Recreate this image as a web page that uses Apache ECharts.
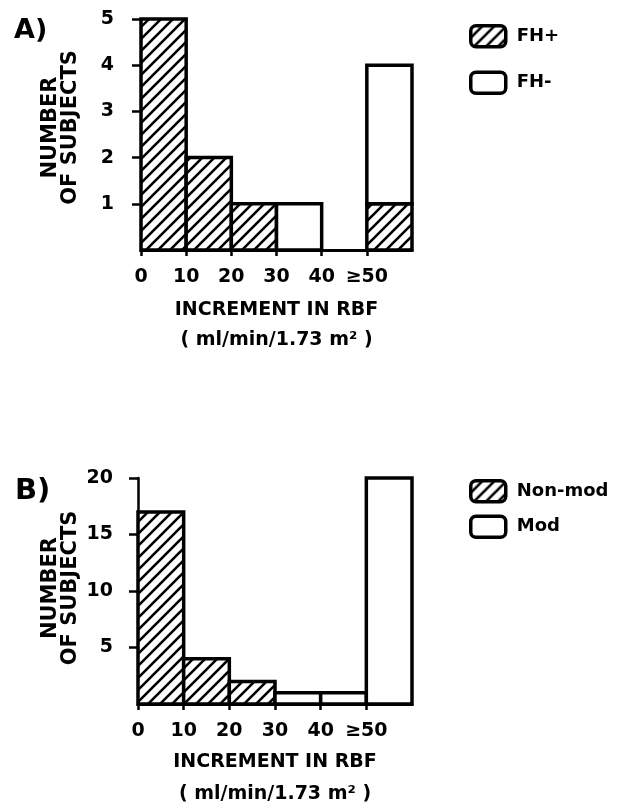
<!DOCTYPE html>
<html><head><meta charset="utf-8">
<script src="https://cdn.jsdelivr.net/npm/echarts@6/dist/echarts.min.js"></script>
<style>html,body{margin:0;padding:0;background:#fff}#c{width:618px;height:811px}</style>
</head><body><div id="c"></div>
<script>
const binStarts = [0, 10, 20, 30, 40, 50];
const binEnds = [10, 20, 30, 40, 50, 60];
const tickValues = [0, 10, 20, 30, 40, 50];
const tickLabels = ['0', '10', '20', '30', '40', '≥50'];
const fhPlus = [5, 2, 1, 0, 0, 1];
const fhMinus = [0, 0, 0, 1, 0, 3];
const nonMod = [17, 4, 2, 0, 0, 0];
const mod = [0, 0, 0, 1, 1, 20];
const yTicksA = [1, 2, 3, 4, 5];
const yTicksB = [5, 10, 15, 20];

const FONT = 'DejaVu Sans';

function hatchCanvas() {
  const s = 12;
  const c = document.createElement('canvas');
  c.width = s; c.height = s;
  const g = c.getContext('2d');
  g.fillStyle = '#fff'; g.fillRect(0, 0, s, s);
  g.strokeStyle = '#000'; g.lineWidth = 2.6; g.lineCap = 'square';
  g.beginPath();
  g.moveTo(-1, s + 1); g.lineTo(s + 1, -1);
  g.moveTo(-3, 3); g.lineTo(3, -3);
  g.moveTo(s - 3, s + 3); g.lineTo(s + 3, s - 3);
  g.stroke();
  return c;
}
const hatch = { image: hatchCanvas(), repeat: 'repeat' };

function histSeries(name, axisIdx, vals, bases, fill) {
  return {
    type: 'custom', name: name,
    xAxisIndex: axisIdx, yAxisIndex: axisIdx,
    itemStyle: { color: fill, borderColor: '#000', borderWidth: 3 },
    data: vals.map((v, i) => [binStarts[i], binEnds[i], bases[i], v]),
    encode: { x: [0, 1], y: [2, 3] },
    renderItem: function (params, api) {
      const s = api.value(0), e = api.value(1), b = api.value(2), v = api.value(3);
      if (!v) return null;
      const p0 = api.coord([s, b + v]);
      const p1 = api.coord([e, b]);
      return {
        type: 'rect',
        shape: { x: p0[0], y: p0[1], width: p1[0] - p0[0], height: p1[1] - p0[1] },
        style: { fill: fill, stroke: '#000', lineWidth: 3.5 }
      };
    }
  };
}

function xAxis(gi, gap, lh) {
  return {
    type: 'value', gridIndex: gi, min: 0, max: 60, interval: 10,
    splitLine: { show: false },
    axisLine: { show: true, lineStyle: { color: '#000', width: 3 } },
    axisTick: { show: true, length: 6, customValues: tickValues, lineStyle: { color: '#000', width: 2.5 } },
    axisLabel: {
      customValues: tickValues, margin: 18,
      formatter: v => tickLabels[tickValues.indexOf(v)],
      color: '#000', fontFamily: FONT, fontWeight: 'bold', fontSize: 19
    },
    name: 'INCREMENT IN RBF\n( ml/min/1.73 m² )',
    nameLocation: 'middle', nameGap: gap,
    nameTextStyle: { color: '#000', fontFamily: FONT, fontWeight: 'bold', fontSize: 19, lineHeight: lh }
  };
}
function yAxis(gi, max, interval, ticks, offset, margin, gap, pad) {
  return {
    type: 'value', gridIndex: gi, min: 0, max: max, interval: interval, offset: offset,
    splitLine: { show: false },
    axisLine: { show: true, lineStyle: { color: '#000', width: 2.5 } },
    axisTick: { show: true, length: 9, customValues: ticks, lineStyle: { color: '#000', width: 2.5 } },
    axisLabel: { customValues: ticks, margin: margin, color: '#000', fontFamily: FONT, fontWeight: 'bold', fontSize: 19 },
    name: 'NUMBER\nOF SUBJECTS', nameLocation: 'middle', nameRotate: 90, nameGap: gap,
    nameTextStyle: { color: '#000', fontFamily: FONT, fontWeight: 'bold', fontSize: 21, lineHeight: 20, padding: pad }
  };
}
function legend(names, fills, top, gap) {
  return {
    orient: 'vertical', left: 469, top: top, padding: 0, itemWidth: 35, itemHeight: 21, itemGap: gap,
    icon: 'roundRect',
    data: names.map((n, i) => ({ name: n, itemStyle: { color: fills[i], borderColor: '#000', borderWidth: 3.5 } })),
    textStyle: { color: '#000', fontFamily: FONT, fontWeight: 'bold', fontSize: 18, padding: [0, 0, 0, 6] }
  };
}

const chart = echarts.init(document.getElementById('c'), null, { renderer: 'canvas' });
chart.setOption({
  backgroundColor: '#fff',
  animation: false,
  title: [
    { text: 'A)', left: 9, top: 12, textStyle: { color: '#000', fontFamily: FONT, fontWeight: 'bold', fontSize: 27 } },
    { text: 'B)', left: 10, top: 472, textStyle: { color: '#000', fontFamily: FONT, fontWeight: 'bold', fontSize: 29 } }
  ],
  legend: [
    legend(['FH+', 'FH-'], [hatch, '#fff'], 24, 22),
    legend(['Non-mod', 'Mod'], [hatch, '#fff'], 479, 11)
  ],
  grid: [
    { left: 141, right: 206, top: 19, bottom: 561 },
    { left: 138, right: 206, top: 478, bottom: 104 }
  ],
  xAxis: [xAxis(0, 45, 30), xAxis(1, 42, 32)],
  yAxis: [yAxis(0, 5, 1, yTicksA, 3, 24, 57, [0, 0, 0, 14]), yAxis(1, 20, 5, yTicksB, 12, 13, 45, [0, 0, 0, 6])],
  series: [
    histSeries('FH+', 0, fhPlus, [0, 0, 0, 0, 0, 0], hatch),
    histSeries('FH-', 0, fhMinus, fhPlus, '#fff'),
    histSeries('Non-mod', 1, nonMod, [0, 0, 0, 0, 0, 0], hatch),
    histSeries('Mod', 1, mod, nonMod, '#fff')
  ]
});
</script>
</body></html>
